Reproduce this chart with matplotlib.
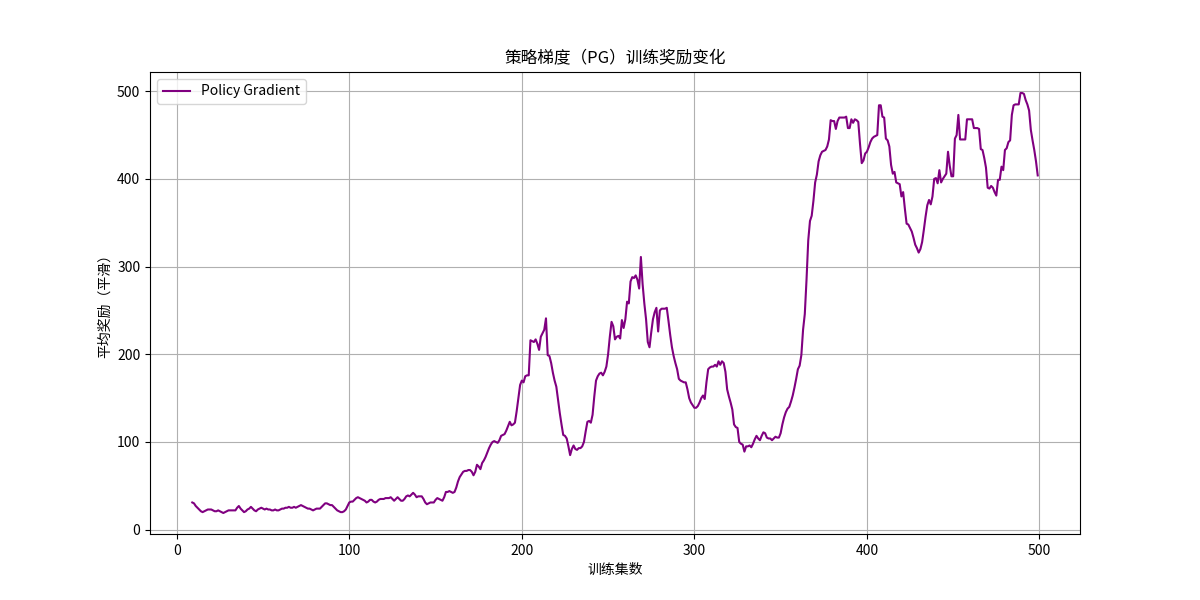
import matplotlib
matplotlib.use("Agg")
import matplotlib.pyplot as plt
import numpy as np

plt.rcParams['font.family'] = ['Noto Sans CJK SC', 'DejaVu Sans']
plt.rcParams['axes.unicode_minus'] = False

# 平滑后的平均奖励（第 9 集到第 499 集）
first_episode = 9
smoothed_rewards = [
    31, 30, 27, 25, 23, 21, 20, 21, 22, 23, 23,            # 9-19
    23, 22, 21, 21, 22, 21, 20, 19, 20, 21,                # 20-29
    22, 22, 22, 22, 22, 25, 27, 24, 22, 20,                # 30-39
    21, 23, 24, 26, 24, 22, 21, 23, 24, 25,                # 40-49
    24, 23, 24, 23, 23, 22, 22, 23, 22, 22,                # 50-59
    23, 24, 24, 25, 25, 26, 25, 25, 26, 25,                # 60-69
    26, 27, 28, 27, 26, 25, 24, 24, 23, 22,                # 70-79
    23, 24, 24, 24, 26, 28, 30, 30, 29, 28,                # 80-89
    28, 26, 24, 22, 21, 20, 20, 21, 23, 27,                # 90-99
    31, 32, 32, 34, 36, 37, 36, 35, 34, 33,                # 100-109
    31, 32, 34, 34, 32, 31, 32, 34, 35, 35,                # 110-119
    35, 36, 36, 36, 37, 35, 33, 35, 37, 35,                # 120-129
    33, 33, 35, 38, 39, 38, 40, 42, 40, 37,                # 130-139
    38, 38, 38, 35, 31, 29, 30, 31, 31, 31,                # 140-149
    34, 36, 35, 34, 33, 37, 43, 43, 44, 43,                # 150-159
    42, 43, 48, 55, 60, 63, 66, 67, 67, 68,                # 160-169
    68, 66, 62, 66, 74, 72, 69, 76, 79, 83,                # 170-179
    88, 93, 97, 100, 101, 100, 99, 102, 107, 108,          # 180-189
    109, 113, 118, 123, 119, 120, 122, 135, 150, 165,      # 190-199
    170, 168, 175, 176, 176, 216, 215, 214, 217, 212,      # 200-209
    205, 220, 224, 228, 241, 199, 198, 190, 179, 170,      # 210-219
    163, 148, 133, 120, 108, 107, 104, 95, 85, 92,         # 220-229
    96, 92, 91, 93, 93, 95, 100, 112, 123, 124,            # 230-239
    122, 131, 152, 170, 175, 178, 179, 176, 180, 186,      # 240-249
    200, 220, 237, 232, 217, 220, 221, 218, 239, 230,      # 250-259
    240, 260, 258, 283, 288, 287, 290, 285, 275, 311,      # 260-269
    280, 258, 240, 214, 208, 225, 240, 248, 253, 226,      # 270-279
    250, 252, 252, 252, 253, 238, 222, 208, 198, 190,      # 280-289
    183, 172, 170, 169, 168, 168, 160, 150, 145, 142,      # 290-299
    139, 139, 141, 145, 150, 153, 149, 168, 183, 185,      # 300-309
    186, 186, 188, 186, 192, 188, 192, 190, 180, 160,      # 310-319
    152, 145, 137, 120, 117, 116, 100, 98, 97, 89,         # 320-329
    95, 95, 96, 94, 98, 103, 107, 104, 102, 107,           # 330-339
    111, 110, 105, 104, 104, 102, 104, 106, 105, 105,      # 340-349
    110, 120, 128, 134, 138, 140, 146, 153, 162, 172,      # 350-359
    183, 187, 199, 228, 246, 285, 330, 352, 358, 375,      # 360-369
    396, 405, 420, 427, 431, 432, 433, 437, 445, 467,      # 370-379
    466, 466, 457, 466, 470, 470, 470, 470, 471, 458,      # 380-389
    458, 468, 464, 468, 467, 465, 440, 418, 421, 429,      # 390-399
    431, 436, 442, 446, 448, 449, 450, 484, 484, 471,      # 400-409
    470, 446, 444, 437, 416, 406, 408, 396, 395, 394,      # 410-419
    380, 385, 366, 349, 348, 344, 340, 333, 325, 321,      # 420-429
    316, 320, 328, 342, 357, 370, 376, 371, 380, 400,      # 430-439
    401, 395, 410, 396, 400, 403, 406, 431, 415, 403,      # 440-449
    403, 446, 450, 473, 445, 445, 445, 445, 468, 468,      # 450-459
    468, 468, 458, 458, 458, 457, 434, 433, 424, 413,      # 460-469
    390, 389, 392, 390, 385, 381, 399, 399, 414, 410,      # 470-479
    433, 435, 442, 444, 473, 484, 485, 485, 485, 498,      # 480-489
    498, 497, 490, 485, 478, 456, 444, 433, 420, 404,      # 490-499
]
episodes = np.arange(first_episode, first_episode + len(smoothed_rewards))

fig, ax = plt.subplots(figsize=(12, 6), dpi=100)
ax.plot(episodes, smoothed_rewards, color='purple', label='Policy Gradient')

ax.set_title('策略梯度（PG）训练奖励变化')
ax.set_xlabel('训练集数')
ax.set_ylabel('平均奖励（平滑）')
ax.legend(loc='upper left')
ax.grid(True)

fig.savefig('out.png', dpi=100)
